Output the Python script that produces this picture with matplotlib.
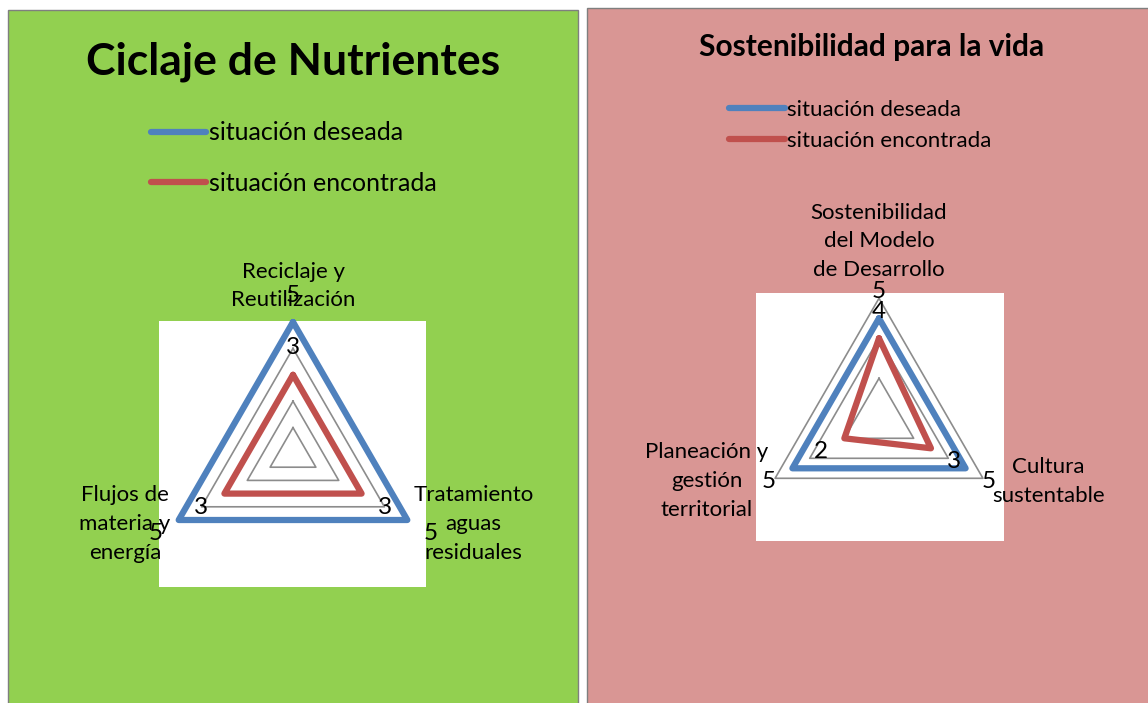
import numpy as np
import matplotlib.pyplot as plt
from matplotlib.patches import Rectangle

W, H = 1148, 703

# Left chart: Ciclaje de Nutrientes
left_title = 'Ciclaje de Nutrientes'
left_categories = ['Reciclaje y\nReutilización', 'Tratamiento\naguas\nresiduales', 'Flujos de\nmateria y\nenergía']
left_deseada = [5, 5, 5]
left_encontrada = [3, 3, 3]
left_rmax = 5
left_grid = [1, 2, 3, 4, 5]

# Right chart: Sostenibilidad para la vida
right_title = 'Sostenibilidad para la vida'
right_categories = ['Sostenibilidad\ndel Modelo\nde Desarrollo', 'Cultura\nsustentable', 'Planeación y\ngestión\nterritorial']
right_deseada = [5, 5, 5]
right_encontrada = [4, 3, 2]
right_rmax = 6
right_grid = [2, 4, 6]

series_names = ['situación deseada', 'situación encontrada']

BLUE = '#4F81BD'
RED = '#C0504D'
GRID = '#8C8C8C'
GREEN = '#92D050'
PINK = '#D99694'
FONT = 'Lato'

plt.rcParams['font.family'] = [FONT, 'DejaVu Sans']


def fx(x):
    return x / W


def fy(y):
    return 1 - y / H


def box(x0, y0, x1, y1):
    return [fx(x0), fy(y1), (x1 - x0) / W, (y1 - y0) / H]


def radar(fig, rect, cats, deseada, encontrada, rmax, grid, cat_opts):
    ax = fig.add_axes(rect, projection='polar')
    ax.set_zorder(2)
    ax.set_theta_zero_location('N')
    ax.set_theta_direction(-1)
    ax.set_ylim(0, rmax)
    ax.grid(False)
    ax.set_xticks([])
    ax.set_yticks([])
    ax.spines['polar'].set_visible(False)
    ax.patch.set_alpha(0)

    theta = np.deg2rad(np.arange(len(cats)) * 360 / len(cats))
    closed = np.append(theta, theta[0])
    for g in grid:
        ax.plot(closed, [g] * len(closed), color=GRID, lw=1.2, clip_on=False, zorder=1)

    lines = []
    for vals, color in [(deseada, BLUE), (encontrada, RED)]:
        v = np.append(vals, vals[0])
        ln, = ax.plot(closed, v, color=color, lw=4.5, solid_joinstyle='round',
                      solid_capstyle='round', clip_on=False, zorder=3)
        lines.append(ln)
        # data labels, pushed out along the spoke
        for t, val in zip(theta, vals):
            ax.annotate(str(val), xy=(t, val), xytext=(27 * np.sin(t), 27 * np.cos(t)),
                        textcoords='offset pixels', ha='center', va='center',
                        fontsize=17.5, color='black', zorder=5, annotation_clip=False)

    for t, cat, (dx, dy, ha) in zip(theta, cats, cat_opts):
        ax.annotate(cat, xy=(t, rmax), xytext=(dx, dy), textcoords='offset pixels',
                    ha=ha, va='center', multialignment='center', fontsize=16,
                    linespacing=1.55, zorder=5, annotation_clip=False)
    return lines


fig = plt.figure(figsize=(W / 100, H / 100), dpi=100)
fig.patch.set_facecolor('white')

# panel backgrounds
fig.patches.append(Rectangle((fx(8), fy(720)), (578 - 8) / W, (720 - 10) / H,
                             transform=fig.transFigure, facecolor=GREEN,
                             edgecolor='#7F7F7F', lw=1, zorder=0))
fig.patches.append(Rectangle((fx(587), fy(720)), (1160 - 587) / W, (720 - 8) / H,
                             transform=fig.transFigure, facecolor=PINK,
                             edgecolor='#7F7F7F', lw=1, zorder=0))
# plot areas
for x0, y0, x1, y1 in [(159, 321, 426, 587), (756, 293, 1004, 541)]:
    fig.patches.append(Rectangle((fx(x0), fy(y1)), (x1 - x0) / W, (y1 - y0) / H,
                                 transform=fig.transFigure, facecolor='white',
                                 edgecolor='none', zorder=0))

left_lines = radar(fig, box(161, 322, 425, 586), left_categories, left_deseada,
                   left_encontrada, left_rmax, left_grid,
                   [(0, 36, 'center'), (6, -4, 'left'), (-8, -4, 'right')])
right_lines = radar(fig, box(759, 298.3, 999, 538.3), right_categories, right_deseada,
                    right_encontrada, right_rmax, right_grid,
                    [(0, 57, 'center'), (9, -3, 'left'), (-7, -3, 'right')])

fig.text(fx(293), fy(62), left_title, ha='center', va='center', fontsize=32,
         fontweight='bold')
fig.text(fx(872), fy(47), right_title, ha='center', va='center', fontsize=21.5,
         fontweight='bold')

fig.legend(left_lines, series_names, loc='center left', bbox_to_anchor=(fx(151), fy(158)),
           frameon=False, fontsize=18, handlelength=2.2, handletextpad=0.12,
           labelspacing=1.1, borderpad=0, borderaxespad=0)
fig.legend(right_lines, series_names, loc='center left', bbox_to_anchor=(fx(729), fy(125.5)),
           frameon=False, fontsize=16, handlelength=2.5, handletextpad=0.12,
           labelspacing=0.5, borderpad=0, borderaxespad=0)

fig.savefig('out.png', dpi=100)
